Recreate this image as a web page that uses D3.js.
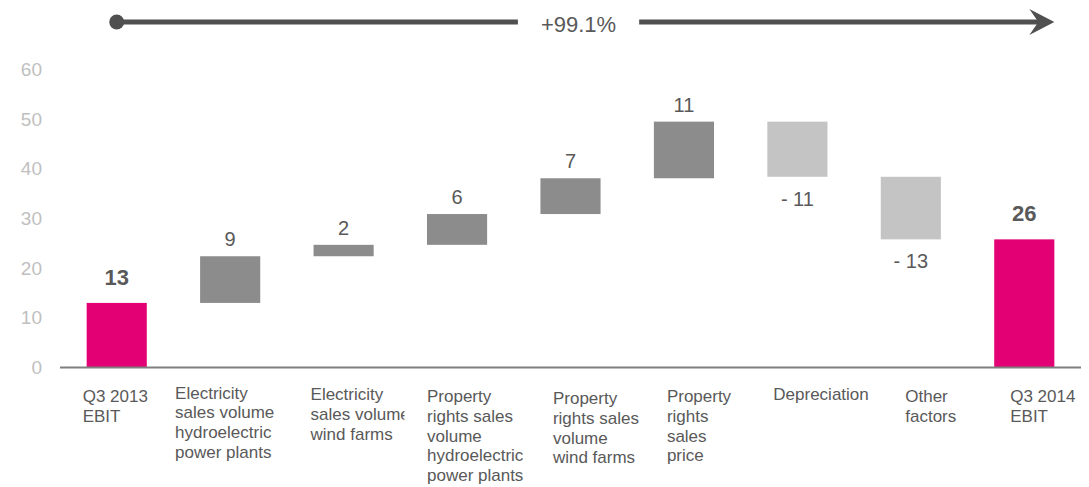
<!DOCTYPE html>
<html>
<head>
<meta charset="utf-8">
<script src="https://cdn.jsdelivr.net/npm/d3@7/dist/d3.min.js"></script>
<style>
body { margin: 0; background: #fff; }
#waterfall-chart { width: 1089px; height: 487px; }
svg { display: block; font-family: "Liberation Sans", Arial, sans-serif; }
</style>
</head>
<body>
<div id="waterfall-chart"></div>
<script>
//Dados do gráfico
var categories = [
	["Q3 2013", "EBIT"],
	["Electricity", "sales volume", "hydroelectric", "power plants"],
	["Electricity", "sales volume", "wind farms"],
	["Property", "rights sales", "volume", "hydroelectric", "power plants"],
	["Property", "rights sales", "volume", "wind farms"],
	["Property", "rights", "sales", "price"],
	["Depreciation"],
	["Other", "factors"],
	["Q3 2014", "EBIT"]
];
var startValue = 13.0;
var deltas = [9.4, 2.3, 6.2, 7.2, 11.4, -11.1, -12.6];
var yTicks = [0, 10, 20, 30, 40, 50, 60];
var growthLabel = "+99.1%";

(function (viz) {
	'use strict';
	viz.waterfall = {
		build : function() {
			var width = 1089, height = 487;
			var colors = {total: "#e20074", up: "#8c8c8c", down: "#c4c4c4"};
			//Ajustes de posição dos rótulos (caixas de texto do original)
			var labelDx = [-4, -25, -3, 0, 12.5, 13, 6, 24.5, 16];
			var labelY = [402, 398.5, 400, 402, 404, 402, 400, 402, 402];
			var labelClip = [120, 120, 96, 120, 120, 120, 120, 120, 120];

			//Montando os passos da cascata
			var steps = [{i: 0, y0: 0, y1: startValue, v: startValue, kind: "total"}];
			var acc = startValue;
			deltas.forEach(function(d, k) {
				steps.push({i: k + 1, y0: acc, y1: acc + d, v: d, kind: d >= 0 ? "up" : "down"});
				acc += d;
			});
			steps.push({i: deltas.length + 1, y0: 0, y1: acc, v: acc, kind: "total"});

			var x = d3.scaleBand()
				.domain(d3.range(categories.length))
				.range([60, 1081])
				.paddingInner(0.47)
				.paddingOuter(0.235);
			var y = d3.scaleLinear()
				.domain([0, 60])
				.range([367.5, 69.5]);

			var svg = d3.select("#waterfall-chart").append("svg")
				.attr("width", width)
				.attr("height", height);

			//Eixo Y (só rótulos)
			var yAxis = svg.append("g")
				.attr("transform", "translate(42,0)")
				.call(d3.axisLeft(y).tickValues(yTicks).tickSize(0).tickPadding(0));
			yAxis.select(".domain").remove();
			yAxis.selectAll("text")
				.attr("fill", "#bfbfbf")
				.style("font-size", "19px")
				.style("font-family", "Liberation Sans, Arial, sans-serif");

			//Barras
			svg.selectAll(".bar")
				.data(steps)
				.enter()
				.append("rect")
				.attr("class", "bar")
				.attr("x", function(d) { return x(d.i); })
				.attr("y", function(d) { return y(Math.max(d.y0, d.y1)); })
				.attr("width", x.bandwidth())
				.attr("height", function(d) { return Math.abs(y(d.y0) - y(d.y1)); })
				.attr("fill", function(d) { return colors[d.kind]; });

			//Linha de base
			svg.append("line")
				.attr("x1", 60).attr("x2", 1081)
				.attr("y1", y(0)).attr("y2", y(0))
				.attr("stroke", "#7f7f7f")
				.attr("stroke-width", 2);

			//Rótulos dos valores
			svg.selectAll(".value-label")
				.data(steps)
				.enter()
				.append("text")
				.attr("class", "value-label")
				.attr("x", function(d) { return x(d.i) + x.bandwidth() / 2; })
				.attr("y", function(d) {
					if (d.kind === "total") return y(d.y1) - 18;
					if (d.kind === "up") return y(d.y1) - 10;
					return y(d.y1) + 29;
				})
				.attr("text-anchor", "middle")
				.attr("fill", "#595959")
				.style("font-size", function(d) { return d.kind === "total" ? "22px" : "20px"; })
				.style("font-weight", function(d) { return d.kind === "total" ? "bold" : "normal"; })
				.text(function(d) {
					var r = Math.round(d.v);
					return r < 0 ? "- " + Math.abs(r) : String(r);
				});

			//Rótulos das categorias
			var defs = svg.append("defs");
			categories.forEach(function(lines, i) {
				var x0 = x(i) + labelDx[i];
				defs.append("clipPath")
					.attr("id", "cat-clip-" + i)
					.append("rect")
					.attr("x", x0 - 2).attr("y", 370)
					.attr("width", labelClip[i]).attr("height", 117);
				var t = svg.append("text")
					.attr("class", "cat-label")
					.attr("clip-path", "url(#cat-clip-" + i + ")")
					.attr("fill", "#595959")
					.style("font-size", "17px");
				lines.forEach(function(line, j) {
					t.append("tspan")
						.attr("x", x0)
						.attr("y", labelY[i] + j * 19.8)
						.text(line);
				});
			});

			//Seta de crescimento no topo
			var ax0 = x(0) + x.bandwidth() / 2;
			var ax1 = x(categories.length - 1) + x.bandwidth();
			var ay = 22;
			var cx = (ax0 + ax1) / 2 - 7;
			var gLabel = svg.append("text")
				.attr("x", cx)
				.attr("y", 31.5)
				.attr("text-anchor", "middle")
				.attr("fill", "#595959")
				.style("font-size", "22px")
				.text(growthLabel);
			var half = gLabel.node().getComputedTextLength() / 2 + 23;
			svg.append("circle")
				.attr("cx", ax0).attr("cy", ay).attr("r", 7.5)
				.attr("fill", "#505050");
			svg.append("line")
				.attr("x1", ax0).attr("x2", cx - half)
				.attr("y1", ay).attr("y2", ay)
				.attr("stroke", "#505050").attr("stroke-width", 5);
			svg.append("line")
				.attr("x1", cx + half).attr("x2", ax1 - 14)
				.attr("y1", ay).attr("y2", ay)
				.attr("stroke", "#505050").attr("stroke-width", 5);
			svg.append("path")
				.attr("d", "M" + ax1 + "," + ay +
					"L" + (ax1 - 25) + "," + (ay - 13) +
					"L" + (ax1 - 16) + "," + ay +
					"L" + (ax1 - 25) + "," + (ay + 13) + "Z")
				.attr("fill", "#505050");
		}
	};
	viz.waterfall.build();
}(window.viz = window.viz || {}));
</script>
</body>
</html>
